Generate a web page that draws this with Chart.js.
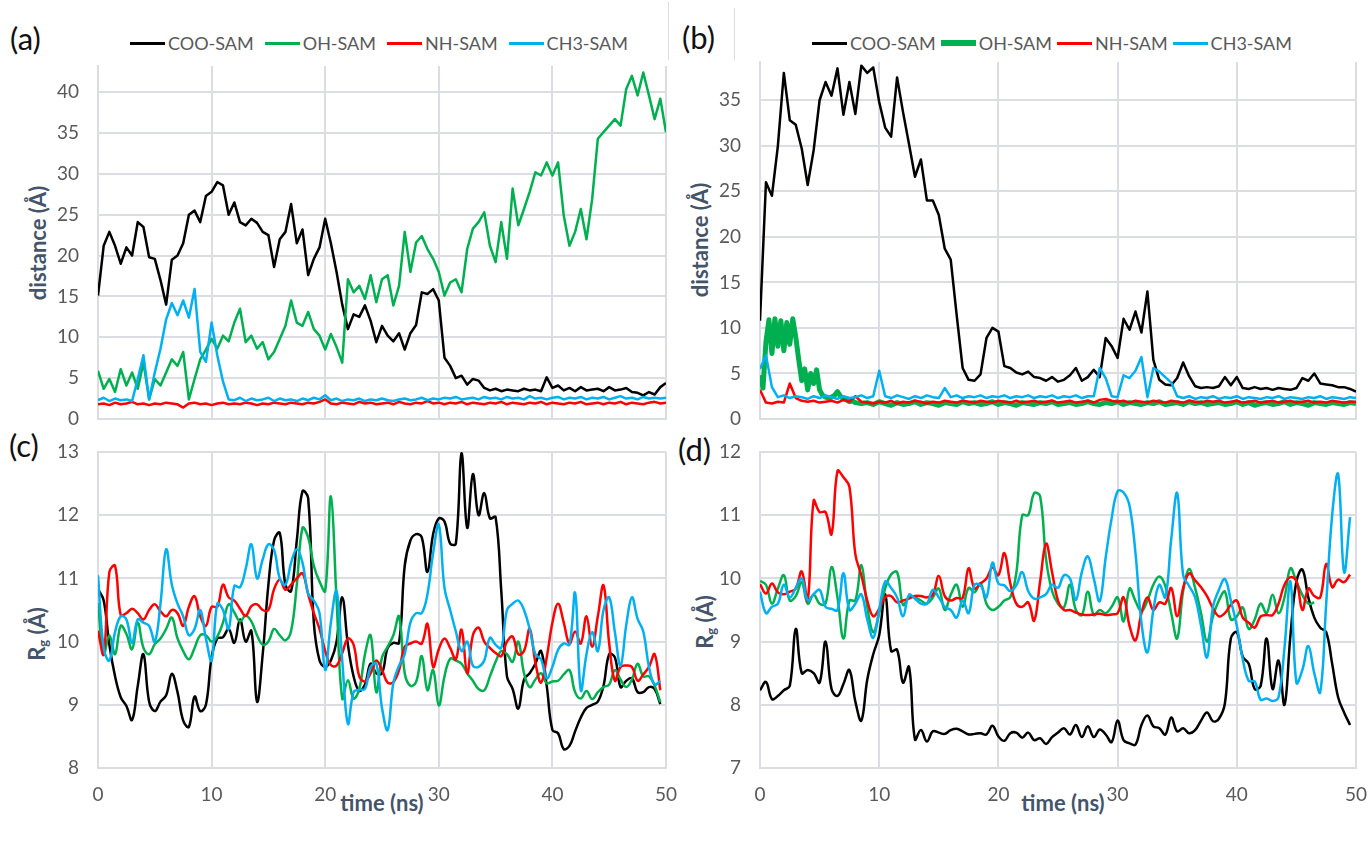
<!DOCTYPE html>
<html>
<head>
<meta charset="utf-8">
<script src="https://cdn.jsdelivr.net/npm/chart.js@4.4.1/dist/chart.umd.min.js"></script>
<style>
  html, body { margin: 0; padding: 0; background: #ffffff; }
  body { width: 1369px; height: 841px; position: relative; overflow: hidden; font-family: Lato, "Open Sans", sans-serif; }
  canvas { position: absolute; }
  .tag { position: absolute; font-size: 31px; color: #111; line-height: 1; transform: translateY(-50%); }
  .ytitle { position: absolute; font-weight: bold; font-size: 22px; color: #44546a; white-space: nowrap; line-height: 1;
            transform: translate(-50%, -50%) rotate(-90deg); }
  .xtitle { position: absolute; font-weight: bold; font-size: 22px; color: #44546a; white-space: nowrap; line-height: 1;
            transform: translate(-50%, -50%); }
  .ytitle sub { font-size: 13px; vertical-align: -3px; }
  .legend { position: absolute; display: flex; align-items: center; font-size: 18px; color: #595959; transform: translateY(-50%); white-space: nowrap; }
  .legend .item { display: flex; align-items: center; }
  .legend .key { display: inline-block; width: 35px; margin-right: 3px; }
  .rule { position: absolute; width: 1px; background: #dedede; }
</style>
</head>
<body>

<div class="tag" style="left:10px; top:38px;">(a)</div>
<div class="tag" style="left:682px; top:37px;">(b)</div>
<div class="tag" style="left:9px; top:445px;">(c)</div>
<div class="tag" style="left:678px; top:449px;">(d)</div>

<div class="rule" style="left:668px; top:2px; height:58px;"></div>
<div class="rule" style="left:734px; top:8px; height:52px;"></div>

<div class="legend" id="legendA" style="left:130px; top:43px;"></div>
<div class="legend" id="legendB" style="left:812px; top:43px;"></div>

<div class="ytitle" style="left:38px; top:243px;">distance (Å)</div>
<div class="ytitle" style="left:700px; top:240px;">distance (Å)</div>
<div class="ytitle" style="left:38px; top:634px;">R<sub>g</sub> (Å)</div>
<div class="ytitle" style="left:706px; top:622px;">R<sub>g</sub> (Å)</div>
<div class="xtitle" style="left:382px; top:803px;">time (ns)</div>
<div class="xtitle" style="left:1063px; top:803px;">time (ns)</div>

<canvas id="chartA" width="690" height="380" style="left:0px; top:56px; width:690px; height:380px;"></canvas>
<canvas id="chartB" width="679" height="380" style="left:690px; top:56px; width:679px; height:380px;"></canvas>
<canvas id="chartC" width="690" height="401" style="left:0px; top:440px; width:690px; height:401px;"></canvas>
<canvas id="chartD" width="679" height="401" style="left:690px; top:440px; width:679px; height:401px;"></canvas>

<script>
// Series names and colours shared by all four panels
const seriesNames = ['COO-SAM', 'OH-SAM', 'NH-SAM', 'CH3-SAM'];
const seriesColors = ['#000000', '#00b050', '#ff0000', '#00b0f0'];

// Axis ticks
const xTicks = [0, 10, 20, 30, 40, 50];
const yTicksA = [0, 5, 10, 15, 20, 25, 30, 35, 40];
const yTicksB = [0, 5, 10, 15, 20, 25, 30, 35];
const yTicksC = [8, 9, 10, 11, 12, 13];
const yTicksD = [7, 8, 9, 10, 11, 12];

// Sampling times (ns)
function timeGrid(start, step, count) {
  const out = [];
  for (let i = 0; i < count; i++) out.push(+(start + i * step).toFixed(2));
  return out;
}
const timeAB = timeGrid(0, 0.5, 101);          // 0 .. 50 ns
const timeCD = timeGrid(0, 0.5, 100);          // 0 .. 49.5 ns
const timeOhB = timeGrid(0, 0.25, 33).concat(timeGrid(8.5, 0.5, 84));
const timeOhD = timeGrid(0, 0.5, 94);          // 0 .. 46.5 ns

// (a) distance (Å)
const distCooA = [
  15.1, 21.2, 22.9, 21.2, 19.0, 21.0, 20.0, 24.1, 23.5, 19.8,
  19.6, 17.0, 14.0, 19.5, 20.0, 21.5, 25.0, 25.5, 24.1, 27.3,
  27.8, 29.0, 28.6, 25.0, 26.5, 24.1, 23.7, 24.5, 24.0, 22.9,
  22.5, 18.6, 22.0, 22.9, 26.3, 21.5, 23.2, 17.6, 19.6, 21.0,
  24.5, 21.5, 18.0, 14.0, 11.0, 12.8, 12.5, 13.9, 12.0, 9.4,
  11.4, 10.2, 9.5, 10.5, 8.5, 10.5, 11.5, 15.5, 15.3, 15.9,
  14.5, 7.5, 6.5, 5.0, 5.3, 4.2, 4.9, 4.7, 3.8, 3.5,
  3.7, 3.4, 3.6, 3.5, 3.4, 3.7, 3.5, 3.6, 3.4, 5.1,
  3.8, 4.1, 3.5, 3.8, 3.4, 3.9, 3.5, 3.6, 3.7, 3.4,
  3.9, 3.5, 3.6, 3.8, 3.3, 3.2, 2.9, 3.3, 3.0, 3.9, 4.4
];
const distOhA = [
  5.9, 3.7, 4.9, 3.3, 6.1, 4.1, 5.7, 3.7, 6.9, 2.4,
  4.9, 4.1, 5.7, 7.3, 6.5, 8.2, 2.4, 4.9, 7.3, 8.5,
  9.8, 8.6, 10.2, 9.5, 11.8, 13.5, 9.4, 10.2, 8.6, 9.4,
  7.3, 8.2, 9.8, 11.4, 14.5, 11.8, 11.4, 13.1, 11.0, 10.2,
  8.5, 10.4, 8.8, 6.9, 17.1, 15.5, 16.3, 14.7, 17.6, 14.3,
  17.1, 17.6, 13.9, 16.3, 22.9, 18.0, 21.6, 22.4, 20.8, 19.6,
  18.0, 15.1, 16.7, 17.1, 15.5, 20.8, 23.3, 24.1, 25.3, 21.2,
  19.2, 24.1, 19.6, 28.2, 23.7, 25.7, 27.8, 30.2, 29.8, 31.4,
  29.8, 31.4, 24.9, 21.2, 22.9, 25.7, 22.0, 26.9, 34.3, 35.1,
  35.9, 36.7, 35.9, 40.4, 42.0, 39.6, 42.4, 39.6, 36.7, 39.2, 35.1
];
const distNhA = [
  1.8, 1.9, 1.7, 2.0, 1.8, 1.9, 2.1, 1.8, 1.9, 1.7,
  1.9, 1.8, 2.0, 1.9, 1.8, 1.4, 1.9, 2.0, 1.8, 1.9,
  1.7, 1.9, 2.0, 1.8, 1.9, 1.8, 2.0, 1.9, 1.7, 1.9,
  1.8, 2.0, 1.9, 1.8, 2.0, 1.9, 1.8, 2.0, 1.9, 2.1,
  2.4, 1.9, 1.8, 2.0, 1.9, 1.8, 2.1, 1.9, 2.0, 1.8,
  1.9, 2.0, 1.8, 2.1, 1.9, 1.8, 2.0, 1.9, 2.2, 1.9,
  2.0, 1.8, 2.0, 1.9, 2.1, 1.8, 2.0, 1.9, 1.8, 2.0,
  1.9, 2.1, 1.8, 2.0, 1.9, 1.8, 2.0, 1.9, 2.1, 1.8,
  2.0, 1.9, 1.8, 2.0, 1.9, 2.1, 1.8, 1.9, 2.0, 1.8,
  2.0, 1.9, 2.1, 1.8, 2.0, 1.9, 1.8, 2.0, 2.1, 1.9, 2.0
];
const distCh3A = [
  2.3, 2.6, 2.2, 2.5, 2.3, 2.4, 2.2, 4.9, 7.8, 2.4,
  5.7, 8.6, 12.2, 14.2, 12.7, 14.5, 12.4, 15.9, 8.2, 7.0,
  11.8, 7.8, 4.6, 2.4, 2.3, 2.6, 2.2, 2.5, 2.3, 2.4,
  2.6, 2.2, 2.5, 2.3, 2.4, 2.2, 2.5, 2.3, 2.6, 2.4,
  2.9, 2.3, 2.5, 2.2, 2.4, 2.3, 2.5, 2.2, 2.4, 2.3,
  2.5, 2.3, 2.2, 2.4, 2.5, 2.3, 2.4, 2.6, 2.3, 2.5,
  2.4, 2.6, 2.5, 2.7, 2.4, 2.5, 2.6, 2.4, 2.7, 2.5,
  2.6, 2.4, 2.7, 2.5, 2.6, 2.4, 2.8, 2.5, 2.6, 2.4,
  2.6, 2.7, 2.4, 2.6, 2.5, 2.7, 2.4, 2.6, 2.5, 2.7,
  2.4, 2.6, 2.8, 2.5, 2.6, 2.4, 2.7, 2.5, 2.6, 2.5, 2.6
];

// (b) distance (Å)
const distCooB = [
  10.8, 26.0, 24.5, 30.0, 38.0, 32.8, 32.3, 29.7, 25.7, 29.5,
  35.0, 37.0, 35.5, 38.5, 33.4, 37.0, 33.5, 38.8, 38.0, 38.6,
  34.8, 32.0, 31.0, 37.5, 33.7, 30.2, 26.6, 28.5, 24.0, 24.0,
  22.4, 18.7, 17.5, 11.4, 5.6, 4.3, 4.2, 4.9, 8.9, 10.0,
  9.6, 5.8, 5.6, 5.1, 4.9, 5.2, 4.6, 4.5, 4.2, 4.6,
  4.1, 4.3, 4.8, 5.6, 4.2, 4.6, 5.4, 4.6, 8.9, 8.0,
  6.7, 11.0, 9.8, 11.8, 9.5, 14.0, 6.5, 4.3, 3.8, 3.7,
  4.5, 6.2, 4.7, 3.6, 3.4, 3.5, 3.4, 3.6, 4.6, 3.7,
  4.6, 3.4, 3.3, 3.5, 3.3, 3.4, 3.2, 3.4, 3.3, 3.2,
  3.4, 4.5, 4.2, 5.0, 3.9, 3.8, 3.7, 3.5, 3.5, 3.3, 3.0
];
const distOhB = [
  4.8, 3.4, 8.5, 10.9, 7.2, 11.0, 8.0, 10.8, 7.5, 10.6,
  8.2, 11.0, 9.0, 6.5, 4.2, 5.5, 3.2, 5.0, 3.9, 5.4,
  3.2, 2.6, 2.4, 2.3, 2.4, 2.6, 3.0, 2.5, 2.2, 2.1,
  1.9, 2.0, 1.8,
  1.7, 1.8, 1.6, 1.9, 1.7, 1.5, 1.8, 1.6, 1.7, 1.9,
  1.6, 1.8, 1.7, 1.5, 1.8, 1.7, 1.6, 1.9, 1.7, 1.8,
  1.6, 1.7, 1.9, 1.6, 1.8, 1.7, 1.5, 1.8, 1.7, 1.6,
  1.8, 1.7, 1.9, 1.6, 1.7, 1.8, 1.6, 1.7, 1.9, 1.7,
  1.6, 1.8, 1.7, 1.9, 1.6, 1.8, 1.7, 1.6, 1.8, 1.7,
  1.9, 1.6, 1.7, 1.8, 1.6, 1.9, 1.7, 1.8, 1.6, 1.7,
  1.8, 1.6, 1.7, 1.9, 1.6, 1.8, 1.5, 1.7, 1.8, 1.6,
  1.7, 1.9, 1.6, 1.8, 1.7, 1.5, 1.8, 1.7, 1.6, 1.8,
  1.7, 1.6, 1.8, 1.7
];
const distNhB = [
  3.2, 1.8, 1.7, 1.9, 1.8, 3.9, 2.3, 2.0, 1.9, 2.0,
  1.8, 1.9, 2.0, 1.8, 2.1, 1.9, 2.5, 1.9, 1.8, 1.7,
  1.9, 1.8, 2.0, 1.7, 1.9, 1.8, 2.0, 1.9, 1.7, 1.9,
  1.8, 2.0, 1.9, 1.8, 2.0, 1.9, 1.8, 2.0, 1.9, 1.8,
  2.0, 1.9, 1.8, 2.0, 1.8, 1.9, 2.0, 1.8, 1.9, 2.0,
  1.8, 1.9, 2.0, 1.8, 1.9, 2.0, 1.8, 2.1, 2.2, 2.0,
  1.9, 2.0, 1.8, 2.0, 1.9, 1.8, 2.0, 1.9, 1.8, 2.0,
  1.9, 1.8, 2.0, 1.9, 1.8, 2.0, 1.9, 2.0, 1.8, 1.9,
  2.0, 1.8, 1.9, 2.0, 1.8, 1.9, 2.0, 1.8, 1.9, 2.0,
  1.8, 1.9, 2.0, 1.8, 1.9, 1.8, 2.0, 1.9, 1.8, 1.9, 1.9
];
const distCh3B = [
  5.5, 7.0, 3.5, 2.4, 2.6, 2.3, 2.5, 2.4, 2.2, 2.5,
  2.3, 2.6, 2.4, 2.2, 2.5, 2.3, 2.4, 2.6, 2.3, 2.5,
  5.3, 2.5, 2.3, 2.6, 2.4, 2.2, 2.5, 2.3, 2.6, 2.4,
  2.3, 3.4, 2.4, 2.6, 2.3, 2.5, 2.4, 2.6, 2.3, 2.5,
  2.4, 2.6, 2.3, 2.5, 2.4, 2.6, 2.3, 2.5, 2.4, 2.6,
  2.3, 2.5, 2.4, 2.6, 2.3, 2.5, 2.5, 5.6, 4.5, 2.5,
  2.4, 4.8, 4.5, 5.3, 6.8, 2.4, 5.6, 5.2, 4.6, 4.0,
  2.5, 2.3, 2.5, 2.2, 2.4, 2.3, 2.5, 2.2, 2.4, 2.3,
  2.5, 2.2, 2.4, 2.3, 2.2, 2.4, 2.3, 2.5, 2.2, 2.4,
  2.3, 2.2, 2.4, 2.3, 2.5, 2.2, 2.4, 2.3, 2.2, 2.4, 2.3
];

// (c) radius of gyration (Å)
const rgCooC = [
  10.83, 10.65, 9.95, 9.45, 9.12, 8.98, 8.76, 9.30, 9.80, 9.05,
  8.90, 9.05, 9.15, 9.49, 9.20, 8.75, 8.65, 9.13, 8.90, 9.00,
  9.75, 10.05, 10.07, 10.20, 9.98, 10.35, 10.00, 10.17, 9.05, 9.80,
  10.90, 11.60, 11.72, 10.90, 10.80, 11.60, 12.38, 12.27, 10.30, 9.70,
  9.60, 9.70, 10.00, 10.70, 9.95, 9.45, 9.22, 9.32, 9.65, 9.50,
  9.50, 9.90, 9.98, 9.98, 11.20, 11.60, 11.70, 11.65, 11.10, 11.70,
  11.95, 11.90, 11.55, 11.55, 12.98, 11.80, 12.65, 12.00, 12.35, 11.95,
  11.97, 10.80, 9.45, 9.25, 8.94, 9.40, 9.50, 9.65, 9.85, 9.30,
  8.60, 8.55, 8.30, 8.35, 8.58, 8.80, 8.95, 9.00, 9.05, 9.30,
  9.80, 9.75, 9.28, 9.38, 9.42, 9.20, 9.20, 9.28, 9.25, 9.01
];
const rgOhC = [
  10.61, 9.80, 10.10, 9.80, 10.25, 10.12, 9.88, 10.30, 9.90, 9.80,
  9.96, 10.05, 10.20, 10.38, 10.05, 9.85, 9.72, 9.90, 10.10, 10.10,
  10.00, 10.08, 10.30, 10.59, 10.46, 10.32, 10.41, 10.32, 10.10, 9.95,
  10.00, 10.20, 10.10, 10.02, 10.17, 10.90, 11.80, 11.65, 11.20, 10.95,
  10.80, 12.30, 10.66, 9.10, 9.39, 9.10, 9.25, 9.80, 10.10, 9.20,
  9.75, 9.92, 10.10, 10.40, 9.50, 9.30, 9.36, 9.77, 9.23, 9.55,
  8.99, 9.45, 9.73, 9.70, 9.65, 9.50, 9.38, 9.25, 9.23, 9.45,
  9.68, 9.85, 9.80, 9.68, 10.00, 9.50, 9.28, 9.40, 9.50, 9.34,
  9.37, 9.38, 9.48, 9.55, 9.20, 9.10, 9.22, 9.09, 9.20, 9.28,
  9.32, 9.55, 9.40, 9.28, 9.40, 9.65, 9.45, 9.45, 9.30, 9.04
];
const rgNhC = [
  10.17, 9.80, 11.10, 11.20, 10.42, 10.45, 10.52, 10.45, 10.35, 10.50,
  10.59, 10.48, 10.40, 10.50, 10.45, 10.25, 10.55, 10.72, 10.40, 10.25,
  10.55, 10.55, 10.90, 10.70, 10.65, 10.52, 10.41, 10.56, 10.59, 10.50,
  10.50, 10.83, 10.98, 10.82, 10.90, 11.00, 11.08, 10.75, 10.45, 10.20,
  9.85, 9.63, 9.62, 9.82, 10.05, 9.95, 9.45, 9.37, 9.50, 9.70,
  9.55, 9.35, 9.36, 9.55, 9.92, 9.97, 10.00, 9.97, 10.28, 9.60,
  9.88, 10.05, 9.90, 9.72, 10.19, 9.50, 10.10, 10.22, 10.00, 9.90,
  9.82, 9.77, 10.00, 10.08, 9.80, 9.85, 10.20, 9.67, 9.35, 9.75,
  10.30, 10.60, 10.30, 9.97, 10.16, 9.97, 10.40, 9.92, 10.40, 10.89,
  9.97, 9.38, 9.60, 9.62, 9.60, 9.38, 9.48, 9.60, 9.80, 9.23
];
const rgCh3C = [
  11.05, 9.90, 9.70, 10.15, 10.40, 10.35, 9.98, 10.35, 10.30, 10.25,
  10.00, 10.60, 11.46, 10.90, 10.60, 10.40, 10.10, 10.20, 10.50, 10.05,
  9.70, 10.60, 10.50, 10.20, 10.88, 10.86, 11.15, 11.54, 11.00, 11.30,
  11.54, 11.45, 11.00, 10.90, 11.25, 11.46, 11.25, 10.76, 10.65, 10.45,
  9.55, 10.30, 10.80, 9.70, 8.70, 9.20, 9.24, 9.25, 9.60, 9.65,
  8.95, 8.60, 9.35, 9.62, 9.80, 10.30, 10.45, 10.45, 10.75, 11.40,
  11.85, 10.85, 10.50, 10.16, 9.85, 10.00, 9.62, 9.60, 9.70, 10.06,
  9.95, 9.90, 10.50, 10.60, 10.65, 10.50, 10.20, 9.80, 9.72, 9.42,
  9.60, 9.87, 9.97, 9.95, 10.77, 9.23, 9.80, 10.15, 9.85, 10.50,
  10.70, 10.15, 9.62, 10.26, 10.70, 10.36, 10.16, 9.60, 9.32, 9.38
];

// (d) radius of gyration (Å)
const rgCooD = [
  8.23, 8.36, 8.09, 8.14, 8.23, 8.30, 9.20, 8.50, 8.55, 8.50,
  8.35, 9.00, 8.25, 8.14, 8.33, 8.55, 8.05, 7.75, 8.40, 8.80,
  9.10, 9.75, 8.85, 8.87, 8.35, 8.60, 7.45, 7.60, 7.42, 7.58,
  7.56, 7.54, 7.60, 7.62, 7.58, 7.53, 7.54, 7.55, 7.53, 7.67,
  7.50, 7.43, 7.55, 7.56, 7.48, 7.56, 7.44, 7.47, 7.38, 7.49,
  7.56, 7.63, 7.53, 7.68, 7.49, 7.66, 7.49, 7.61, 7.53, 7.41,
  7.75, 7.44, 7.39, 7.37, 7.68, 7.83, 7.66, 7.63, 7.53, 7.80,
  7.58, 7.63, 7.55, 7.60, 7.75, 7.88, 7.74, 7.78, 8.02, 9.05,
  9.15, 8.76, 8.65, 8.25, 8.30, 9.05, 8.25, 8.70, 8.00, 9.10,
  9.95, 10.14, 9.70, 9.38, 9.22, 9.15, 8.65, 8.12, 7.88, 7.68
];
const rgOhD = [
  9.96, 9.90, 9.60, 9.84, 10.05, 9.65, 9.72, 9.94, 9.60, 9.74,
  9.60, 9.60, 10.18, 9.70, 9.05, 9.65, 9.65, 10.21, 9.55, 9.15,
  9.45, 9.84, 10.06, 10.10, 9.58, 9.70, 9.70, 9.65, 9.60, 9.70,
  9.84, 9.50, 9.74, 9.90, 9.55, 9.85, 9.78, 9.92, 9.60, 9.50,
  9.55, 9.65, 9.70, 10.08, 11.00, 11.00, 11.35, 11.30, 10.30, 9.80,
  9.60, 9.54, 9.90, 9.50, 9.42, 9.79, 9.42, 9.50, 9.45, 9.55,
  9.70, 9.32, 9.84, 9.64, 9.48, 9.65, 9.90, 10.03, 9.88, 9.45,
  9.05, 9.80, 10.15, 9.85, 9.45, 9.00, 9.40, 9.65, 9.79, 9.35,
  9.40, 9.54, 9.20, 9.35, 9.60, 9.45, 9.74, 9.45, 9.70, 10.16,
  9.95, 9.74, 9.60, 9.62
];
const rgNhD = [
  9.91, 9.76, 9.92, 9.78, 9.75, 9.79, 9.84, 10.11, 9.65, 11.23,
  11.05, 11.05, 10.70, 11.70, 11.60, 11.45, 10.38, 10.05, 9.65, 9.40,
  9.52, 9.70, 9.72, 9.62, 9.65, 9.68, 9.72, 9.72, 9.70, 9.74,
  10.04, 9.72, 9.65, 9.69, 9.69, 10.16, 9.84, 9.92, 10.00, 10.17,
  10.05, 10.40, 9.92, 9.60, 9.55, 9.62, 9.33, 9.95, 10.55, 10.10,
  9.65, 9.50, 9.50, 9.46, 9.43, 9.42, 9.43, 9.44, 9.42, 9.43,
  9.45, 9.70, 9.25, 9.02, 9.45, 9.70, 9.50, 9.62, 9.60, 9.85,
  9.40, 9.85, 10.08, 9.97, 9.86, 9.72, 9.53, 9.40, 9.45, 9.58,
  9.65, 9.38, 9.30, 9.22, 9.40, 9.42, 9.42, 9.60, 9.90, 10.02,
  9.96, 9.50, 9.84, 9.72, 9.70, 10.23, 9.86, 9.98, 9.94, 10.06
];
const rgCh3D = [
  9.79, 9.45, 9.55, 9.60, 9.90, 9.70, 9.85, 10.00, 9.65, 9.75,
  9.82, 9.55, 9.52, 9.50, 10.08, 9.50, 9.60, 9.75, 9.35, 9.06,
  9.50, 9.95, 9.85, 9.70, 9.40, 9.74, 9.68, 9.60, 9.60, 9.82,
  9.70, 9.55, 9.50, 9.38, 9.65, 9.45, 9.90, 9.89, 9.70, 10.25,
  9.92, 9.89, 9.80, 9.89, 10.10, 9.80, 9.68, 9.70, 9.75, 9.90,
  9.85, 10.05, 10.00, 9.66, 10.10, 10.35, 10.00, 9.64, 10.33, 10.95,
  11.38, 11.36, 11.15, 10.40, 9.30, 8.83, 9.50, 9.90, 9.70, 10.62,
  11.35, 10.05, 9.88, 9.70, 9.25, 8.75, 9.55, 9.82, 9.99, 9.65,
  9.25, 8.72, 8.38, 8.37, 8.08, 8.10, 8.06, 8.12, 8.90, 9.95,
  8.35, 8.55, 8.93, 8.50, 8.20, 9.60, 11.00, 11.65, 10.10, 10.97
];

// ---------------------------------------------------------------------------
const gridColor = '#dcdde2';
const tickFont = { family: 'Lato', size: 19 };
const tickColor = '#595959';

function buildLegend(id, widths, gap) {
  const box = document.getElementById(id);
  seriesNames.forEach((name, i) => {
    const item = document.createElement('div');
    item.className = 'item';
    item.style.marginRight = (i < seriesNames.length - 1 ? gap : 0) + 'px';
    const key = document.createElement('span');
    key.className = 'key';
    key.style.height = widths[i] + 'px';
    key.style.background = seriesColors[i];
    const label = document.createElement('span');
    label.textContent = name;
    item.appendChild(key);
    item.appendChild(label);
    box.appendChild(item);
  });
}
buildLegend('legendA', [3, 3, 3, 3], 11);
buildLegend('legendB', [3, 6, 3, 3], 5);

// Keep the plot area exactly where the layout asks for it: no extra room
// reserved for half-height edge labels.
function noEdgePadding(ax) {
  ax.paddingTop = 0; ax.paddingBottom = 0;
  ax.paddingLeft = 0; ax.paddingRight = 0;
}

function makePanel(canvasId, cfg) {
  const datasets = cfg.series.map((s, i) => ({
    label: seriesNames[i],
    data: s.t.map((t, j) => ({ x: t, y: s.v[j] })),
    borderColor: seriesColors[i],
    backgroundColor: seriesColors[i],
    borderWidth: s.w,
    pointRadius: 0,
    fill: false,
    tension: cfg.tension,
    borderJoinStyle: 'round',
    order: cfg.series.length - i
  }));
  return new Chart(document.getElementById(canvasId), {
    type: 'line',
    data: { datasets },
    options: {
      responsive: false,
      animation: false,
      devicePixelRatio: 1,
      layout: { padding: cfg.pad },
      plugins: { legend: { display: false }, tooltip: { enabled: false } },
      scales: {
        x: {
          type: 'linear', min: 0, max: 50,
          afterBuildTicks: ax => { ax.ticks = xTicks.map(v => ({ value: v })); },
          afterFit: ax => { ax.height = cfg.xh; noEdgePadding(ax); },
          grid: { color: gridColor, lineWidth: 2, drawTicks: false },
          border: { display: true, color: gridColor, width: 2 },
          ticks: { display: cfg.xLabels, padding: 15, font: tickFont, color: tickColor, maxRotation: 0, autoSkip: false }
        },
        y: {
          type: 'linear', min: cfg.yMin, max: cfg.yMax,
          afterBuildTicks: ax => { ax.ticks = cfg.yTicks.map(v => ({ value: v })); },
          afterFit: ax => { ax.width = cfg.yw; noEdgePadding(ax); },
          grid: { color: gridColor, lineWidth: 2, drawTicks: false },
          border: { display: true, color: gridColor, width: 2 },
          ticks: { padding: 19, font: tickFont, color: tickColor }
        }
      }
    }
  });
}

makePanel('chartA', {
  series: [
    { t: timeAB, v: distCooA, w: 2.5 },
    { t: timeAB, v: distOhA, w: 2.5 },
    { t: timeAB, v: distNhA, w: 2.5 },
    { t: timeAB, v: distCh3A, w: 2.5 }
  ],
  tension: 0, yMin: 0, yMax: 43.2, yTicks: yTicksA,
  pad: { left: 0, right: 24, top: 10, bottom: 0 }, yw: 98, xh: 17, xLabels: false
});

makePanel('chartB', {
  series: [
    { t: timeAB, v: distCooB, w: 2.5 },
    { t: timeOhB, v: distOhB, w: 5 },
    { t: timeAB, v: distNhB, w: 2.5 },
    { t: timeAB, v: distCh3B, w: 2.5 }
  ],
  tension: 0, yMin: 0, yMax: 39.2, yTicks: yTicksB,
  pad: { left: 0, right: 13, top: 6, bottom: 0 }, yw: 70, xh: 17, xLabels: false
});

makePanel('chartC', {
  series: [
    { t: timeCD, v: rgCooC, w: 2.5 },
    { t: timeCD, v: rgOhC, w: 2.5 },
    { t: timeCD, v: rgNhC, w: 2.5 },
    { t: timeCD, v: rgCh3C, w: 2.5 }
  ],
  tension: 0.4, yMin: 8, yMax: 13, yTicks: yTicksC,
  pad: { left: 0, right: 24, top: 12, bottom: 0 }, yw: 98, xh: 73, xLabels: true
});

makePanel('chartD', {
  series: [
    { t: timeCD, v: rgCooD, w: 2.5 },
    { t: timeOhD, v: rgOhD, w: 2.5 },
    { t: timeCD, v: rgNhD, w: 2.5 },
    { t: timeCD, v: rgCh3D, w: 2.5 }
  ],
  tension: 0.4, yMin: 7, yMax: 12, yTicks: yTicksD,
  pad: { left: 0, right: 13, top: 12, bottom: 0 }, yw: 70, xh: 73, xLabels: true
});
</script>
</body>
</html>
